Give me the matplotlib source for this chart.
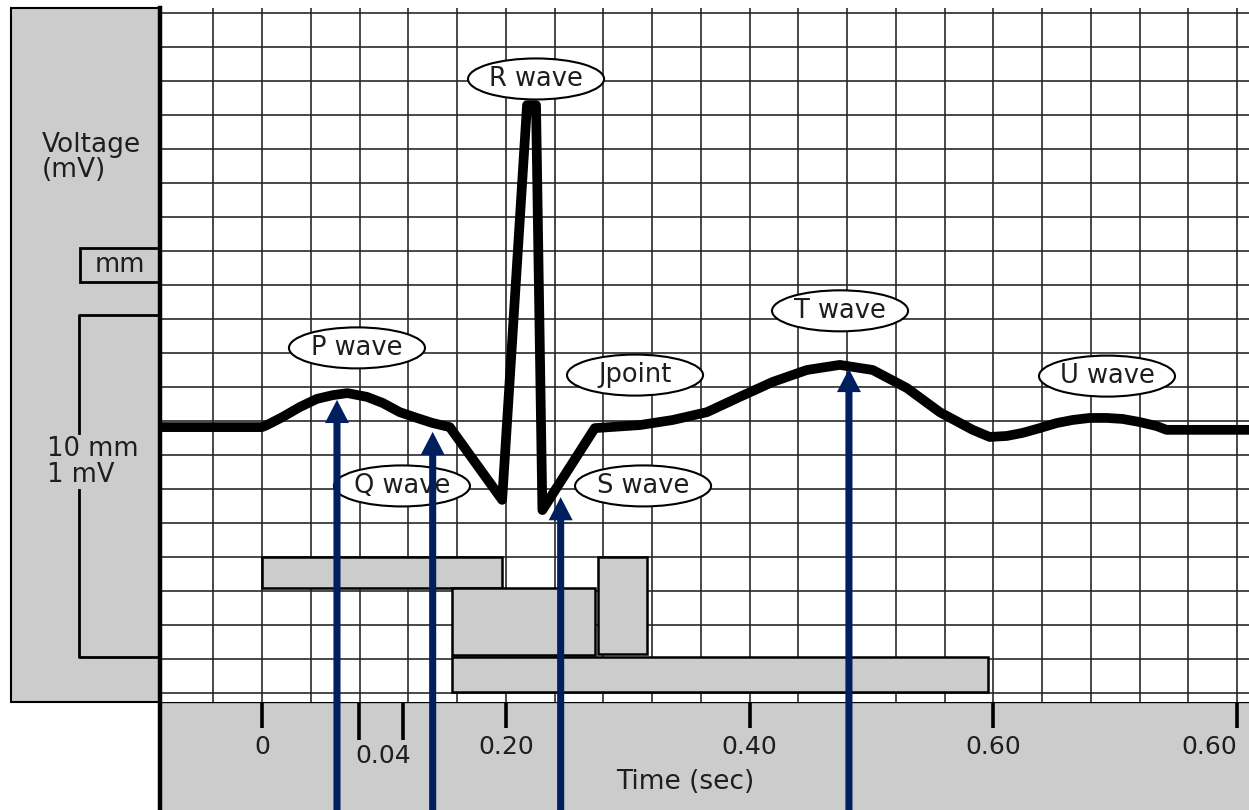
import numpy as np
import matplotlib
matplotlib.use("Agg")
import matplotlib.pyplot as plt
from matplotlib.patches import Rectangle, Ellipse

# ECG trace: time (sec) and amplitude (mm above the bottom grid line)
trace_t = [-0.084, 0.000, 0.004, 0.017, 0.031, 0.045, 0.058, 0.070, 0.086, 0.099,
           0.113, 0.127, 0.140, 0.154, 0.197, 0.2174, 0.2248, 0.230, 0.273, 0.310,
           0.337, 0.365, 0.392, 0.419, 0.447, 0.474, 0.501, 0.529, 0.556, 0.583,
           0.597, 0.611, 0.624, 0.638, 0.652, 0.665, 0.679, 0.693, 0.706, 0.720,
           0.734, 0.742, 0.810]
trace_mm = [7.82, 7.82, 7.88, 8.12, 8.41, 8.65, 8.76, 8.82, 8.71, 8.53,
            8.26, 8.09, 7.94, 7.82, 5.68, 17.29, 17.29, 5.38, 7.79, 7.88,
            8.03, 8.26, 8.71, 9.15, 9.50, 9.65, 9.50, 8.97, 8.26, 7.74,
            7.53, 7.56, 7.65, 7.79, 7.94, 8.03, 8.09, 8.09, 8.06, 7.97,
            7.85, 7.74, 7.74]

# wave labels
label_names = ["P wave", "Q wave", "R wave", "S wave", "Jpoint", "T wave", "U wave"]
label_t = [0.0779, 0.1148, 0.2248, 0.3126, 0.306, 0.4742, 0.6932]
label_mm = [10.15, 6.09, 18.06, 6.09, 9.35, 11.24, 9.32]

# blue arrows (where they point)
arrow_t = [0.0615, 0.140, 0.245, 0.4815]
arrow_mm = [8.62, 7.68, 5.76, 9.53]

# interval bars (PR, QRS, J, QT)
box_t0 = [0.0, 0.156, 0.2756, 0.156]
box_t1 = [0.197, 0.273, 0.316, 0.5956]
box_mm0 = [3.08, 1.12, 1.15, 0.03]
box_mm1 = [4.0, 3.09, 4.0, 1.06]

# time axis
tick_sec = [0.0, 0.20, 0.40, 0.60, 0.80]
tick_labels = ["0", "0.20", "0.40", "0.60", "0.60"]
minor_sec = [0.0796, 0.1157]

GRAY = "#cccccc"
NAVY = "#001f5f"
TXT = "#1e1e1e"
plt.rcParams["font.family"] = ["DejaVu Sans"]


def main():
    fig = plt.figure(figsize=(12.49, 8.10), dpi=100)

    # фон: боковая и нижняя панели (координаты в пикселях)
    bg = fig.add_axes([0, 0, 1, 1])
    bg.set_xlim(0, 1249)
    bg.set_ylim(810, 0)
    bg.axis("off")
    bg.add_patch(Rectangle((11, 8), 149, 694, fc=GRAY, ec="black", lw=1.5))
    bg.add_patch(Rectangle((160, 702), 1095, 115, fc=GRAY, ec="black", lw=1.0))
    bg.add_patch(Rectangle((80, 248), 80, 34, fc=GRAY, ec="black", lw=2.0))
    bg.plot([160, 79, 79], [315, 315, 433], color="black", lw=2.0)
    bg.plot([79, 79, 160], [490, 657, 657], color="black", lw=2.0)
    bg.text(42, 152, "Voltage", fontsize=19, color=TXT, va="baseline")
    bg.text(42, 177, "(mV)", fontsize=19, color=TXT, va="baseline")
    bg.text(95, 272, "mm", fontsize=18.5, color=TXT, va="baseline")
    bg.text(47, 456, "10 mm", fontsize=18.5, color=TXT, va="baseline")
    bg.text(47, 482, "1 mV", fontsize=18.5, color=TXT, va="baseline")

    # сетка
    ax = fig.add_axes([160 / 1249, 108 / 810, 1089 / 1249, 694 / 810])
    x0, x1 = -0.0837, 0.8097
    y0, y1 = -0.265, 20.147
    ax.set_xlim(x0, x1)
    ax.set_ylim(y0, y1)
    for s in ax.spines.values():
        s.set_visible(False)
    ax.set_yticks([])
    grid_t = np.arange(-0.04, 0.81, 0.04)
    ax.vlines(grid_t, y0, y1, color="#2a2a2a", lw=1.2, zorder=1)
    ax.hlines(np.arange(0, 21), x0, x1, color="#2a2a2a", lw=1.2, zorder=1)
    ax.plot([0, 0], [1, -108 / 694], transform=ax.transAxes, color="black",
            lw=3.2, clip_on=False, zorder=2)

    for a, b, c, d in zip(box_t0, box_t1, box_mm0, box_mm1):
        ax.add_patch(Rectangle((a, c), b - a, d - c, fc=GRAY, ec="black",
                               lw=1.8, zorder=2))

    ax.plot(trace_t, trace_mm, color="black", lw=7.0,
            solid_joinstyle="round", zorder=3)

    for name, t, m in zip(label_names, label_t, label_mm):
        ax.add_patch(Ellipse((t, m), 0.1116, 1.206, fc="white", ec="black",
                             lw=1.5, zorder=4))
        ax.text(t, m, name, fontsize=18.5, color=TXT, ha="center",
                va="center", zorder=5)

    for t, m in zip(arrow_t, arrow_mm):
        ax.arrow(t, -3.45, 0, m + 3.45, width=0.0058, head_width=0.0197,
                 head_length=0.68, length_includes_head=True, color=NAVY,
                 lw=0, clip_on=False, zorder=6)

    # ось времени
    ax.set_xticks(tick_sec, tick_labels)
    ax.set_xticks(minor_sec, ["", ""], minor=True)
    ax.tick_params(axis="x", which="major", length=18.7, width=2.6, pad=5,
                   labelsize=18, labelcolor=TXT)
    ax.tick_params(axis="x", which="minor", length=27.4, width=2.6)
    ax.get_xticklabels()[-1].set_ha("right")
    ax.text(0.0993, -61 / 694, "0.04", transform=ax.get_xaxis_transform(),
            fontsize=18, color=TXT, ha="center", va="baseline")
    ax.set_xlabel("Time (sec)", fontsize=19, color=TXT)
    ax.xaxis.set_label_coords((685 - 160) / 1089, -87 / 694)
    ax.xaxis.label.set_va("baseline")

    fig.savefig("out.png", dpi=100)


if __name__ == "__main__":
    main()
